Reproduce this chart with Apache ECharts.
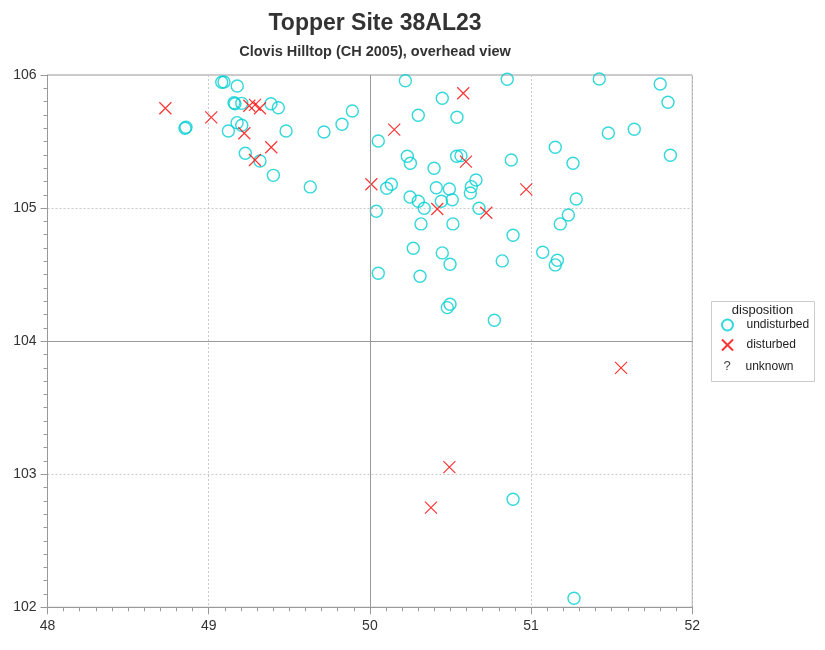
<!DOCTYPE html>
<html>
<head>
<meta charset="utf-8">
<script src="https://cdn.jsdelivr.net/npm/echarts@6/dist/echarts.min.js"></script>
<style>html,body{margin:0;padding:0;background:#fff}#c{width:825px;height:650px}</style>
</head>
<body>
<div id="c"></div>
<script>
// undisturbed (circles): [x, y]
var undisturbed = [
  [49.081,105.945],[49.095,105.947],[49.177,105.917],[49.157,105.792],[49.163,105.784],
  [49.205,105.787],[49.386,105.784],[49.432,105.754],[48.853,105.600],[48.859,105.607],
  [49.176,105.642],[49.205,105.622],[49.122,105.579],[49.480,105.579],[49.715,105.572],
  [49.827,105.630],[49.891,105.730],[49.227,105.412],[49.318,105.354],[49.401,105.246],
  [49.630,105.159],[50.220,105.957],[50.852,105.968],[50.449,105.825],[50.300,105.697],
  [50.540,105.682],[50.052,105.504],[50.232,105.389],[50.251,105.337],[50.398,105.299],
  [50.538,105.389],[50.565,105.394],[50.877,105.361],[50.104,105.149],[50.133,105.179],
  [50.412,105.153],[50.493,105.143],[50.658,105.211],[50.629,105.161],[50.623,105.113],
  [50.249,105.083],[50.300,105.051],[50.337,104.999],[50.443,105.051],[50.511,105.063],
  [50.677,104.999],[50.040,104.976],[50.317,104.881],[50.515,104.881],[50.888,104.796],
  [50.269,104.698],[50.449,104.663],[50.497,104.578],[50.821,104.603],[50.052,104.510],
  [50.311,104.488],[50.497,104.277],[50.480,104.252],[50.772,104.157],[51.423,105.970],
  [51.801,105.932],[51.849,105.795],[51.640,105.592],[51.479,105.564],[51.150,105.457],
  [51.864,105.397],[51.260,105.337],[51.280,105.068],[51.231,104.948],[51.181,104.881],
  [51.072,104.668],[51.163,104.608],[51.150,104.573],[50.888,102.812],[51.266,102.068]
];
// disturbed (crosses)
var disturbed = [
  [48.731,105.750],[49.016,105.682],[49.252,105.769],[49.287,105.775],[49.318,105.750],
  [49.221,105.562],[49.388,105.457],[49.287,105.361],[50.579,105.863],[50.151,105.589],
  [50.596,105.349],[50.009,105.179],[50.970,105.141],[50.418,104.993],[50.722,104.965],
  [51.558,103.799],[50.493,103.053],[50.379,102.749]
];
// unknown (question marks)
var unknown = [
  [49.205,105.236],[50.493,105.504],[50.695,105.504],[50.695,105.416],[50.695,105.376],[50.768,105.299]
];
var xTicks = [48,49,50,51,52];
var yTicks = [102,103,104,105,106];
var refX = 50, refY = 104;

var FONT = '"Liberation Sans", Arial, sans-serif';
var axisCommon = {
  interval: 1,
  axisLine: {show: true, lineStyle: {color: '#999', width: 1}},
  axisTick: {show: true, length: 7, lineStyle: {color: '#999'}},
  minorTick: {show: true, splitNumber: 10, length: 4, lineStyle: {color: '#999'}},
  splitLine: {show: true, lineStyle: {color: '#c8c8c8', type: [2, 2], width: 1}},
  axisLabel: {color: '#333', fontSize: 14, fontFamily: FONT}
};

var chart = echarts.init(document.getElementById('c'), null, {renderer: 'canvas'});
chart.setOption({
  animation: false,
  backgroundColor: '#fff',
  textStyle: {fontFamily: FONT},
  title: [
    {text: 'Topper Site 38AL23', left: 370, top: 7, textAlign: 'center',
     textStyle: {fontSize: 23, fontWeight: 'bold', color: '#333', fontFamily: FONT}},
    {text: 'Clovis Hilltop (CH 2005), overhead view', left: 370, top: 39, textAlign: 'center',
     textStyle: {fontSize: 14.5, fontWeight: 'bold', color: '#333', fontFamily: FONT}}
  ],
  grid: {left: 47.5, right: 132.7, top: 75, bottom: 42.7, show: true, borderColor: '#999', borderWidth: 1, backgroundColor: 'transparent'},
  xAxis: Object.assign({type: 'value', min: xTicks[0], max: xTicks[xTicks.length-1]}, axisCommon,
    {axisLabel: Object.assign({}, axisCommon.axisLabel, {margin: 12})}),
  yAxis: Object.assign({type: 'value', min: yTicks[0], max: yTicks[yTicks.length-1]}, axisCommon,
    {axisLabel: Object.assign({}, axisCommon.axisLabel, {margin: 11})}),
  legend: [
    {data: ['undisturbed', 'disturbed'], orient: 'vertical', left: 721, top: 318.5, padding: 0,
     itemWidth: 28, itemHeight: 11, itemGap: 7,
     textStyle: {fontSize: 12, color: '#222', fontFamily: FONT}},
    {data: ['unknown'], orient: 'vertical', left: 721, top: 360.5, padding: 0,
     itemWidth: 28, itemHeight: 11, itemGap: 7,
     textStyle: {fontSize: 12, color: '#222', fontFamily: FONT}}
  ],
  graphic: [
    {type: 'rect', left: 711, top: 301, shape: {width: 103, height: 80},
     style: {fill: 'transparent', stroke: '#ccc', lineWidth: 1}, z: 0},
    {type: 'text', x: 762.5, y: 310, style: {text: 'disposition', fill: '#222', font: '13px ' + FONT, textAlign: 'center', textVerticalAlign: 'middle'}},
    {type: 'text', x: 727, y: 366, style: {text: '?', fill: '#444', font: '13px ' + FONT, textAlign: 'center', textVerticalAlign: 'middle'}}
  ],
  series: [
    {name: 'refs', type: 'scatter', data: [], silent: true,
     markLine: {silent: true, symbol: 'none', label: {show: false},
       lineStyle: {color: '#999', type: 'solid', width: 1},
       data: [{xAxis: refX}, {yAxis: refY}]}},
    {name: 'undisturbed', type: 'scatter', data: undisturbed, symbol: 'circle', symbolSize: 12,
     itemStyle: {color: 'rgba(0,0,0,0)', borderColor: '#00CED1', borderWidth: 1.4}},
    {name: 'disturbed', type: 'scatter', data: disturbed,
     symbol: 'path://M0,0L10,10M10,0L0,10', symbolSize: 12,
     itemStyle: {color: 'rgba(0,0,0,0)', borderColor: '#ff0000', borderWidth: 1.2}},
    {name: 'unknown', type: 'scatter', data: unknown, symbol: 'circle', symbolSize: 1,
     itemStyle: {color: 'rgba(0,0,0,0)', opacity: 0},
     label: {show: true, position: 'inside', formatter: '?', color: '#444', fontSize: 13, fontFamily: FONT}}
  ]
});
</script>
</body>
</html>
